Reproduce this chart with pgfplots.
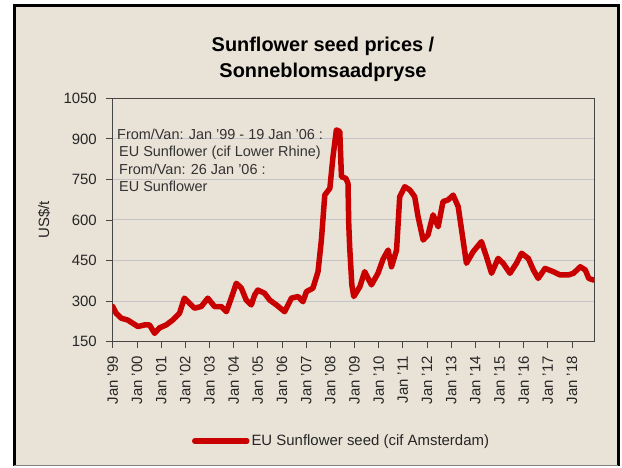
\documentclass[border=0pt]{standalone}
\usepackage{pgfplots}
\pgfplotsset{compat=1.18}
\usepackage{fontspec}
\setmainfont{Liberation Sans}
\definecolor{bg}{RGB}{233,226,215}
\definecolor{linered}{RGB}{200,0,0}
\definecolor{gridc}{RGB}{196,196,200}
\definecolor{axc}{RGB}{70,70,70}
\begin{document}
\begin{tikzpicture}
\fill[white] (0,0) rectangle (622bp,468bp);
\fill[bg] (14bp,2bp) rectangle (618bp,462bp);
\draw[black, line width=3bp] (14bp,2bp) -- (14bp,462bp) -- (618bp,462bp) -- (618bp,2bp);
\draw[gray, line width=1bp] (14bp,2.5bp) -- (618bp,2.5bp);
\node[font=\fontsize{20}{24}\selectfont\bfseries, anchor=base, inner sep=0pt] at (323bp,416bp) {Sunflower seed prices /};
\node[font=\fontsize{20}{24}\selectfont\bfseries, anchor=base, inner sep=0pt] at (323bp,390bp) {Sonneblomsaadpryse};
\node[rotate=90, font=\fontsize{15}{17}\selectfont, inner sep=0pt, text=black!85] at (44bp,248bp) {US\$/t};
\begin{axis}[
  at={(112.3bp,126.3bp)}, anchor=south west,
  scale only axis, width=482bp, height=243.4bp,
  xmin=1998.98, xmax=2018.92, ymin=150, ymax=1050,
  ytick={150,300,...,1050},
  xtick={1999,...,2018},
  xticklabels={Jan '99,Jan '00,Jan '01,Jan '02,Jan '03,Jan '04,Jan '05,Jan '06,Jan '07,Jan '08,Jan '09,Jan '10,Jan '11,Jan '12,Jan '13,Jan '14,Jan '15,Jan '16,Jan '17,Jan '18},
  minor x tick num=11,
  tick align=outside,
  major tick length=6bp, minor tick length=4bp,
  xtick pos=bottom, ytick pos=left,
  axis line style={axc, line width=1bp},
  tick style={axc, line width=0.8bp},
  ymajorgrids, grid style={gridc, line width=1bp},
  axis background/.style={fill=bg},
  /pgf/number format/1000 sep={},
  /pgf/number format/assume math mode=true,
  yticklabel style={font=\fontsize{15}{17}\selectfont, text=black!85, xshift=-6bp},
  xticklabel style={yshift=-5bp, font=\fontsize{15}{17}\selectfont, rotate=90, anchor=east, text=black!85},
  legend style={at={(axis description cs:0.165,-0.408)}, anchor=west, draw=none, fill=none, inner sep=0pt, font=\fontsize{15}{17}\selectfont, text=black!85},
  legend cell align=left,
  legend image code/.code={\draw[#1] (0bp,0bp) -- (52bp,0bp);},
]
\addplot[linered, line width=5.5bp, line join=round, line cap=round] coordinates {
(1999.00,280) (1999.14,255) (1999.35,237) (1999.62,230) (1999.83,218)
(2000.04,206) (2000.31,212) (2000.52,212) (2000.73,181) (2000.93,201)
(2001.21,212) (2001.48,230) (2001.76,255) (2001.96,311) (2002.18,292)
(2002.38,274) (2002.66,280) (2002.93,311) (2003.21,280) (2003.49,280)
(2003.70,261) (2003.90,311) (2004.11,366) (2004.32,348) (2004.52,304)
(2004.73,286) (2004.87,323) (2005.00,341) (2005.28,329) (2005.49,304)
(2005.77,286) (2006.11,261) (2006.39,311) (2006.66,317) (2006.87,298)
(2007.01,335) (2007.28,348) (2007.49,409) (2007.63,526) (2007.77,692)
(2007.98,717) (2008.11,834) (2008.25,933) (2008.39,927) (2008.46,760)
(2008.64,754) (2008.73,736) (2008.76,590) (2008.80,500) (2008.89,360)
(2008.97,317) (2009.22,353) (2009.42,409) (2009.70,360) (2009.97,403)
(2010.18,455) (2010.39,489) (2010.53,427) (2010.74,489) (2010.87,686)
(2011.08,723) (2011.29,711) (2011.49,686) (2011.63,612) (2011.84,526)
(2012.04,545) (2012.25,619) (2012.46,575) (2012.66,668) (2012.87,674)
(2013.08,692) (2013.29,649) (2013.43,563) (2013.63,440) (2013.91,483)
(2014.25,520) (2014.46,464) (2014.67,403) (2014.94,458) (2015.15,440)
(2015.43,403) (2015.70,440) (2015.91,477) (2016.19,458) (2016.40,415)
(2016.60,384) (2016.88,421) (2017.22,409) (2017.50,397) (2017.85,397)
(2018.06,403) (2018.34,427) (2018.55,415) (2018.69,384) (2018.89,378)
};
\addlegendentry{EU Sunflower seed (cif Amsterdam)}
\end{axis}
\begin{scope}[every node/.style={font=\fontsize{14.5}{17}\selectfont, anchor=base west, inner sep=0pt, text=black!80}]
\node at (117bp,328bp) {From/Van: Jan '99 - 19 Jan '06 :};
\node at (119bp,311bp) {EU Sunflower (cif Lower Rhine)};
\node at (119bp,293.5bp) {From/Van: 26 Jan '06 :};
\node at (119bp,276bp) {EU Sunflower};
\end{scope}
\end{tikzpicture}
\end{document}
